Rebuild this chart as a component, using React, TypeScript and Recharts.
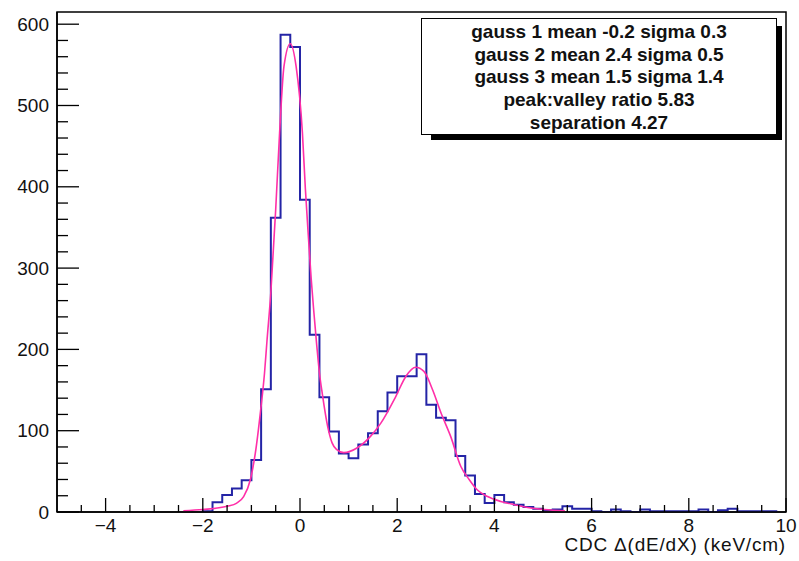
// dE/dx separation histogram with triple-gauss fit, ROOT-style frame

import React from "react";
import { ComposedChart, Line, XAxis, YAxis, ReferenceArea } from "recharts";

// low edges of the 0.2-wide bins that hold entries (-2.0 .. 9.6)
const binEdges = [
  -2.0, -1.8, -1.6, -1.4, -1.2, -1.0, -0.8, -0.6, -0.4, -0.2,
  0.0, 0.2, 0.4, 0.6, 0.8, 1.0, 1.2, 1.4, 1.6, 1.8,
  2.0, 2.2, 2.4, 2.6, 2.8, 3.0, 3.2, 3.4, 3.6, 3.8,
  4.0, 4.2, 4.4, 4.6, 4.8, 5.0, 5.2, 5.4, 5.6, 5.8,
  6.0, 6.2, 6.4, 6.6, 6.8, 7.0, 7.2, 7.4, 7.6, 7.8,
  8.0, 8.2, 8.4, 8.6, 8.8, 9.0, 9.2, 9.4, 9.6,
];
const binCounts = [
  1, 12, 21, 29, 39, 64, 151, 362, 587, 572,
  384, 218, 141, 99, 72, 66, 83, 97, 124, 147,
  167, 167, 194, 132, 116, 113, 69, 45, 22, 11,
  21, 12, 9, 6, 4, 2, 3, 7, 4, 4,
  1, 0, 3, 1, 0, 3, 1, 1, 1, 1,
  1, 3, 0, 2, 4, 1, 1, 1, 1,
];
const histEnd = 9.8;

// fit curve
const fitX = [
  -2.4, -2.0, -1.5, -1.3, -1.16, -1.02, -0.92, -0.81, -0.73, -0.68,
  -0.6, -0.5, -0.42, -0.33, -0.2, -0.08, 0.05, 0.11, 0.18, 0.23,
  0.285, 0.34, 0.4, 0.46, 0.57, 0.66, 0.75, 0.9, 1.18, 1.45,
  1.66, 1.97, 2.18, 2.38, 2.55, 2.73, 2.9, 3.1, 3.31, 3.48,
  3.65, 3.86, 4.13, 4.41, 4.75, 5.03, 5.45,
];
const fitY = [
  1.5, 3, 7, 11, 19, 40, 72, 125, 171, 210,
  270, 372, 466, 548, 576, 548, 466, 398, 332, 287,
  246, 208, 171, 145, 105, 85, 77, 73, 79, 93,
  109, 142, 167, 178, 173, 150, 122, 93, 56, 40,
  27, 19, 13, 9, 5, 3, 1.5,
];

const xTicks = [
  -4.5, -4, -3.5, -3, -2.5, -2, -1.5, -1, -0.5, 0, 0.5, 1, 1.5, 2, 2.5, 3,
  3.5, 4, 4.5, 5, 5.5, 6, 6.5, 7, 7.5, 8, 8.5, 9, 9.5, 10,
];
const yTicks = [
  0, 20, 40, 60, 80, 100, 120, 140, 160, 180, 200, 220, 240, 260, 280, 300,
  320, 340, 360, 380, 400, 420, 440, 460, 480, 500, 520, 540, 560, 580, 600,
];

const statLines = [
  "gauss 1 mean -0.2 sigma 0.3",
  "gauss 2 mean 2.4 sigma 0.5",
  "gauss 3 mean 1.5 sigma 1.4",
  "peak:valley ratio 5.83",
  "separation 4.27",
];

const FONT = '"Liberation Sans", Arial, Helvetica, sans-serif';
const HIST_COLOR = "#2424a6";
const FIT_COLOR = "#ff2fa8";

const histData = [
  { x: binEdges[0], y: 0 },
  ...binEdges.map((x, i) => ({ x, y: binCounts[i] })),
  { x: histEnd, y: 0 },
];
const fitData = fitX.map((x, i) => ({ x, y: fitY[i] }));

const fmt = (v: number) => (v < 0 ? "\u2212" + Math.abs(v) : String(v));

function XTick(props: any) {
  const { x, y, payload } = props;
  const v = payload.value as number;
  const major = Math.abs(v % 2) < 1e-6;
  return (
    <g>
      <line x1={x} x2={x} y1={y} y2={y - (major ? 14 : 7)} stroke="#000" strokeWidth={1.3} />
      {major && (
        <text x={x} y={y + 20} textAnchor="middle" fontSize={19} fontFamily={FONT} fill="#111">
          {fmt(v)}
        </text>
      )}
    </g>
  );
}

function YTick(props: any) {
  const { x, y, payload } = props;
  const v = payload.value as number;
  const major = v % 100 === 0;
  return (
    <g>
      <line x1={x} x2={x + (major ? 22 : 11)} y1={y} y2={y} stroke="#000" strokeWidth={1.3} />
      {major && (
        <text x={x - 8} y={y + 6.5} textAnchor="end" fontSize={19} fontFamily={FONT} fill="#111">
          {v}
        </text>
      )}
    </g>
  );
}

export default function App() {
  return (
    <div style={{ position: "absolute", left: 0, top: 0, width: 799, height: 561, background: "#fff" }}>
      <ComposedChart width={799} height={561} margin={{ top: 12, right: 13, bottom: 0, left: 0 }}>
        <XAxis
          dataKey="x"
          type="number"
          domain={[-5, 10]}
          ticks={xTicks}
          interval={0}
          height={49}
          tickSize={0}
          tickMargin={0}
          tickLine={false}
          tick={<XTick />}
          axisLine={{ stroke: "#000", strokeWidth: 1.5 }}
          allowDataOverflow
        />
        <YAxis
          type="number"
          domain={[0, 615]}
          ticks={yTicks}
          interval={0}
          width={57}
          tickSize={0}
          tickMargin={0}
          tickLine={false}
          tick={<YTick />}
          axisLine={{ stroke: "#000", strokeWidth: 1.5 }}
          allowDataOverflow
        />
        <ReferenceArea x1={-5} x2={10} y1={0} y2={615} fill="none" stroke="#000" strokeWidth={1.5} ifOverflow="visible" />
        <Line
          data={histData}
          dataKey="y"
          type="stepAfter"
          stroke={HIST_COLOR}
          strokeWidth={2}
          dot={false}
          isAnimationActive={false}
        />
        <Line
          data={fitData}
          dataKey="y"
          type="monotone"
          stroke={FIT_COLOR}
          strokeWidth={1.6}
          dot={false}
          isAnimationActive={false}
        />
      </ComposedChart>

      <div
        style={{
          position: "absolute",
          left: 786,
          top: 545,
          transform: "translate(-100%, -50%)",
          whiteSpace: "nowrap",
          fontFamily: FONT,
          fontSize: 19,
          letterSpacing: 0.8,
          color: "#111",
        }}
      >
        CDC Δ(dE/dX) (keV/cm)
      </div>

      {/* stats pave with its drop shadow */}
      <div style={{ position: "absolute", left: 431, top: 26, width: 351, height: 114, background: "#000" }} />
      <div
        style={{
          position: "absolute",
          left: 421,
          top: 18,
          width: 356,
          height: 117,
          boxSizing: "border-box",
          border: "1.5px solid #000",
          background: "#fff",
          paddingTop: 2,
          fontFamily: FONT,
          fontWeight: "bold",
          fontSize: 19,
          color: "#111",
          textAlign: "center",
        }}
      >
        {statLines.map((s) => (
          <div key={s} style={{ lineHeight: "22.7px" }}>
            {s}
          </div>
        ))}
      </div>
    </div>
  );
}
